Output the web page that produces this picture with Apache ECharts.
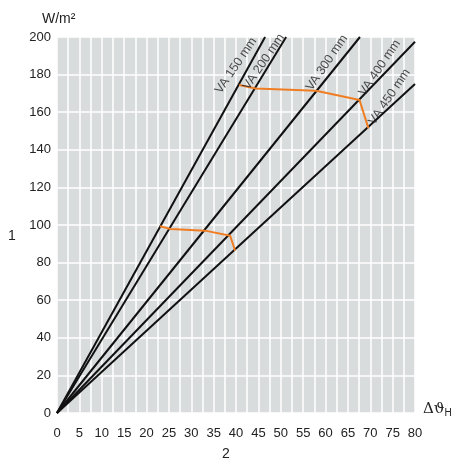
<!DOCTYPE html>
<html><head><meta charset="utf-8">
<script src="https://cdn.jsdelivr.net/npm/echarts@6/dist/echarts.min.js"></script>
<style>html,body{margin:0;padding:0;background:#fff}#c{width:451px;height:460px}</style>
</head><body><div id="c"></div>
<script>
var lineNames = ['VA 150 mm','VA 200 mm','VA 300 mm','VA 400 mm','VA 450 mm'];
var lineEnds = [[46.5,200],[51.2,200],[67.7,200],[80,197.5],[80,175]];
var labelPos = [[40.0,184.8],[46.2,186.8],[60.3,186.3],[72.1,183.6],[74.3,168.2]];
var orangeUpper = [[40.7,174.5],[44.4,172.6],[57.9,171.4],[67.6,166.5],[69.6,151.4]];
var orangeLower = [[23.0,99.3],[25.4,97.9],[33.1,97.0],[38.7,94.3],[39.8,86.3]];
var xTicks = {min:0,max:80,step:5};
var yTicks = {min:0,max:200,step:20};

var FONT = 'Liberation Sans, Arial, sans-serif';
var chart = echarts.init(document.getElementById('c'));
var series = [];
lineNames.forEach(function(n,i){
  series.push({type:'line',name:n,data:[[0,0],lineEnds[i]],symbol:'none',
    lineStyle:{color:'#111',width:2},z:3,animation:false});
});
series.push({type:'line',data:orangeUpper,symbol:'none',lineStyle:{color:'#f07d22',width:2},z:4,animation:false});
series.push({type:'line',data:orangeLower,symbol:'none',lineStyle:{color:'#f07d22',width:2},z:4,animation:false});
series.push({type:'scatter',symbolSize:0,z:5,animation:false,
  data:labelPos.map(function(p,i){return {value:p,name:lineNames[i]};}),
  label:{show:true,position:'inside',formatter:'{b}',rotate:56,color:'#222',fontSize:12.5,fontFamily:FONT}
});
chart.setOption({
  animation:false,
  grid:{left:57,right:36,top:37,bottom:47,show:true,backgroundColor:'#d9dcdd',borderWidth:0},
  xAxis:{type:'value',min:xTicks.min,max:xTicks.max,interval:xTicks.step,
    axisLine:{show:false},axisTick:{show:false},
    axisLabel:{color:'#222',fontSize:13,fontFamily:FONT,margin:14},
    splitLine:{show:true,lineStyle:{color:'#ffffff',width:1.5}},
    minorTick:{show:false,splitNumber:2},
    minorSplitLine:{show:true,lineStyle:{color:'#ffffff',width:1.5}}},
  yAxis:{type:'value',min:yTicks.min,max:yTicks.max,interval:yTicks.step,
    axisLine:{show:false},axisTick:{show:false},
    axisLabel:{color:'#222',fontSize:13,fontFamily:FONT,margin:6},
    splitLine:{show:true,lineStyle:{color:'#ffffff',width:1.5}}},
  graphic:[
    {type:'text',left:42,top:12,style:{text:'W/m²',fill:'#222',font:'14px '+FONT}},
    {type:'text',left:8,top:229,style:{text:'1',fill:'#222',font:'14px '+FONT}},
    {type:'text',left:222,top:447,style:{text:'2',fill:'#222',font:'14px '+FONT}},
    {type:'text',left:423,top:402,style:{rich:{a:{fill:'#222',font:'15px DejaVu Serif'},b:{fill:'#222',font:'10px '+FONT,padding:[8,0,0,0]}},text:'{a|Δϑ}{b|H}'}}
  ],
  series:series
});
</script></body></html>
